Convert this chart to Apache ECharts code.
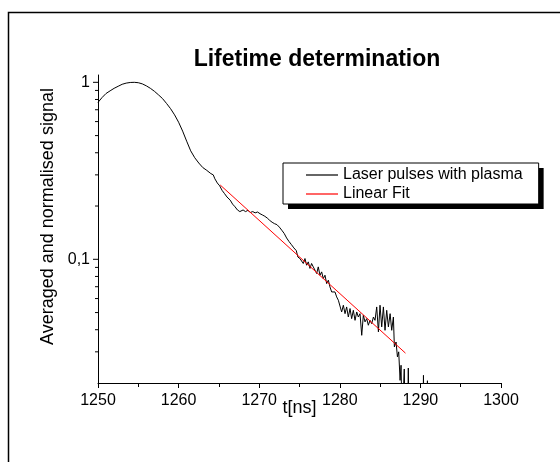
<!DOCTYPE html>
<html>
<head>
<meta charset="utf-8">
<script src="https://cdn.jsdelivr.net/npm/echarts@6/dist/echarts.min.js"></script>
<style>
  html, body { margin: 0; padding: 0; background: #fff; }
  #main { width: 560px; height: 462px; }
</style>
</head>
<body>
<div id="main"></div>
<script>
// time axis [ns] and normalised signal
var tNs = [
  1250.0, 1250.5, 1251.0, 1251.5, 1252.0, 1252.5, 1253.0, 1253.5, 1254.0, 1254.5,
  1255.0, 1255.5, 1256.0, 1256.5, 1257.0, 1257.5, 1258.0, 1258.5, 1259.0, 1259.5,
  1260.0, 1260.5, 1261.0, 1261.5, 1262.0, 1262.5, 1263.0, 1263.5, 1264.0, 1264.3,
  1264.5, 1264.8, 1265.1, 1265.4, 1265.7, 1266.0, 1266.4, 1266.7, 1267.0, 1267.3,
  1267.6, 1268.0, 1268.3, 1268.6, 1268.9, 1269.2, 1269.5, 1269.8, 1270.1, 1270.4,
  1270.7, 1271.0, 1271.3, 1271.6, 1271.9, 1272.2, 1272.5, 1272.8, 1273.1, 1273.4,
  1273.7, 1274.0, 1274.3, 1274.6, 1274.8, 1275.05, 1275.26, 1275.47, 1275.68, 1275.88,
  1276.09, 1276.30, 1276.50, 1276.71, 1276.92, 1277.13, 1277.33, 1277.54, 1277.75, 1277.95,
  1278.16, 1278.37, 1278.58, 1278.78, 1278.99, 1279.20, 1279.40, 1279.61, 1279.82, 1280.03,
  1280.23, 1280.44, 1280.65, 1280.85, 1281.06, 1281.27, 1281.47, 1281.68, 1281.89, 1282.10,
  1282.30, 1282.51, 1282.72, 1282.92, 1283.13, 1283.34, 1283.54, 1283.75, 1283.96, 1284.17,
  1284.37, 1284.58, 1284.79, 1284.99, 1285.20, 1285.41, 1285.61, 1285.82, 1286.03, 1286.24,
  1286.44, 1286.65, 1286.77, 1286.98, 1287.15, 1287.31, 1287.48, 1287.60, 1287.73, 1287.90,
  1288.00, 1288.10, 1288.40, 1288.50, 1288.60, 1290.30, 1290.38, 1290.45, 1290.80, 1290.87,
  1290.95, 1291.50
];
var signal = [
  0.77, 0.82, 0.865, 0.895, 0.925, 0.95, 0.975, 0.99, 0.998, 1.0,
  0.995, 0.98, 0.955, 0.925, 0.89, 0.85, 0.81, 0.76, 0.71, 0.655,
  0.595, 0.53, 0.465, 0.41, 0.375, 0.35, 0.33, 0.318, 0.305, 0.3,
  0.285, 0.27, 0.26, 0.245, 0.235, 0.225, 0.216, 0.205, 0.198, 0.19,
  0.186, 0.19, 0.186, 0.189, 0.184, 0.186, 0.183, 0.185, 0.181, 0.178,
  0.175, 0.171, 0.166, 0.162, 0.159, 0.157, 0.152, 0.146, 0.14, 0.132,
  0.126, 0.121, 0.116, 0.112, 0.103, 0.101, 0.0989, 0.0947, 0.101, 0.0926,
  0.0967, 0.0888, 0.0947, 0.0906, 0.0868, 0.0831, 0.0906, 0.0813, 0.0849, 0.0778,
  0.0813, 0.0729, 0.0762, 0.0698, 0.0654, 0.0668, 0.0654, 0.0613, 0.0587, 0.058,
  0.0504, 0.055, 0.0493, 0.0538, 0.0472, 0.0527, 0.0462, 0.0515, 0.0452, 0.0504,
  0.0472, 0.0493, 0.0372, 0.0483, 0.0443, 0.0462, 0.0424, 0.0452, 0.0433, 0.0472,
  0.0452, 0.0538, 0.0389, 0.055, 0.0415, 0.0538, 0.0397, 0.0515, 0.0415, 0.0493,
  0.0397, 0.0472, 0.032, 0.0341, 0.0281, 0.03, 0.0207, 0.0252, 0.012, 0.012,
  0.024, 0.012, 0.012, 0.0243, 0.012, 0.012, 0.0221, 0.012, 0.012, 0.0206,
  0.012, 0.012
];

// linear fit (straight on the log axis)
var fitT = [1265.16, 1288.15];
var fitSignal = [0.263, 0.0295];

// y axis ticks
var yMajorTicks = [0.1, 1];
var yMajorLabels = ['0,1', '1'];
var yMinorTicks = [0.03, 0.04, 0.05, 0.06, 0.07, 0.08, 0.09,
                   0.2, 0.3, 0.4, 0.5, 0.6, 0.7, 0.8, 0.9];

var seriesNames = ['Laser pulses with plasma', 'Linear Fit'];

var font = 'Liberation Sans, Arial, sans-serif';
var chart = echarts.init(document.getElementById('main'));

var tickData = [];
yMajorTicks.forEach(function (v) { tickData.push([1250, v, 5]); });
yMinorTicks.forEach(function (v) { tickData.push([1250, v, 3]); });

// same box twice: the lower one only casts the black drop shadow
var legendBase = {
  data: seriesNames,
  orient: 'vertical',
  left: 283,
  top: 163,
  padding: [4, 16, 2, 23],
  icon: 'rect',
  itemWidth: 32,
  itemHeight: 1.5,
  itemGap: 3,
  backgroundColor: '#fff',
  textStyle: { fontFamily: font, fontSize: 16, color: '#000' }
};

chart.setOption({
  backgroundColor: '#fff',
  animation: false,
  title: {
    text: 'Lifetime determination',
    left: 317,
    top: 48,
    padding: 0,
    textAlign: 'center',
    textStyle: { fontFamily: font, fontSize: 23, fontWeight: 'bold', color: '#000' }
  },
  graphic: [{
    type: 'rect',
    shape: { x: 8.5, y: 12.5, width: 600, height: 500 },
    style: { fill: null, stroke: '#000', lineWidth: 1.5 },
    silent: true
  }],
  legend: [
    Object.assign({}, legendBase, {
      z: 6,
      borderColor: '#000',
      borderWidth: 1
    }),
    Object.assign({}, legendBase, {
      z: 5,
      borderWidth: 0,
      shadowColor: '#000',
      shadowBlur: 0,
      shadowOffsetX: 5,
      shadowOffsetY: 5
    })
  ],
  grid: { left: 98, right: 59, top: 75, bottom: 79 },
  xAxis: {
    type: 'value',
    min: 1250,
    max: 1300,
    interval: 10,
    name: 't[ns]',
    nameLocation: 'middle',
    nameGap: 16,
    nameMoveOverlap: false,
    nameTextStyle: { fontFamily: font, fontSize: 18, color: '#000' },
    axisLine: { lineStyle: { color: '#000', width: 1 } },
    axisTick: { length: 5, lineStyle: { color: '#000' } },
    minorTick: { show: true, splitNumber: 2, length: 4, lineStyle: { color: '#000' } },
    splitLine: { show: false },
    axisLabel: {
      margin: 10, fontFamily: font, fontSize: 16, color: '#000',
      formatter: function (v) { return String(v); }
    }
  },
  yAxis: {
    type: 'log',
    logBase: 10,
    min: 0.02,
    max: 1.1,
    name: 'Averaged and normalised signal',
    nameLocation: 'middle',
    nameGap: 32,
    nameTextStyle: { fontFamily: font, fontSize: 18, color: '#000', padding: [0, 0, 0, 25] },
    axisLine: { show: true, lineStyle: { color: '#000', width: 1 } },
    axisTick: { show: false },
    splitLine: { show: false },
    axisLabel: {
      margin: 8,
      fontFamily: font,
      fontSize: 16,
      color: '#000',
      formatter: function (v) {
        for (var i = 0; i < yMajorTicks.length; i++) {
          if (Math.abs(v - yMajorTicks[i]) < 1e-9) return yMajorLabels[i];
        }
        return '';
      }
    }
  },
  series: [
    {
      name: seriesNames[0],
      type: 'line',
      data: tNs.map(function (t, i) { return [t, signal[i]]; }),
      symbol: 'none',
      clip: true,
      lineStyle: { color: '#000', width: 1 },
      itemStyle: { color: '#333' }
    },
    {
      name: seriesNames[1],
      type: 'line',
      data: fitT.map(function (t, i) { return [t, fitSignal[i]]; }),
      symbol: 'none',
      lineStyle: { color: '#ff0000', width: 1 },
      itemStyle: { color: '#ff3333' }
    },
    {
      type: 'custom',
      silent: true,
      clip: false,
      data: tickData,
      encode: { x: 0, y: 1 },
      renderItem: function (params, api) {
        var p = api.coord([api.value(0), api.value(1)]);
        var len = api.value(2);
        return {
          type: 'line',
          shape: { x1: p[0] - len, y1: p[1], x2: p[0], y2: p[1] },
          style: { stroke: '#000', lineWidth: 1 }
        };
      }
    }
  ]
});
</script>
</body>
</html>
